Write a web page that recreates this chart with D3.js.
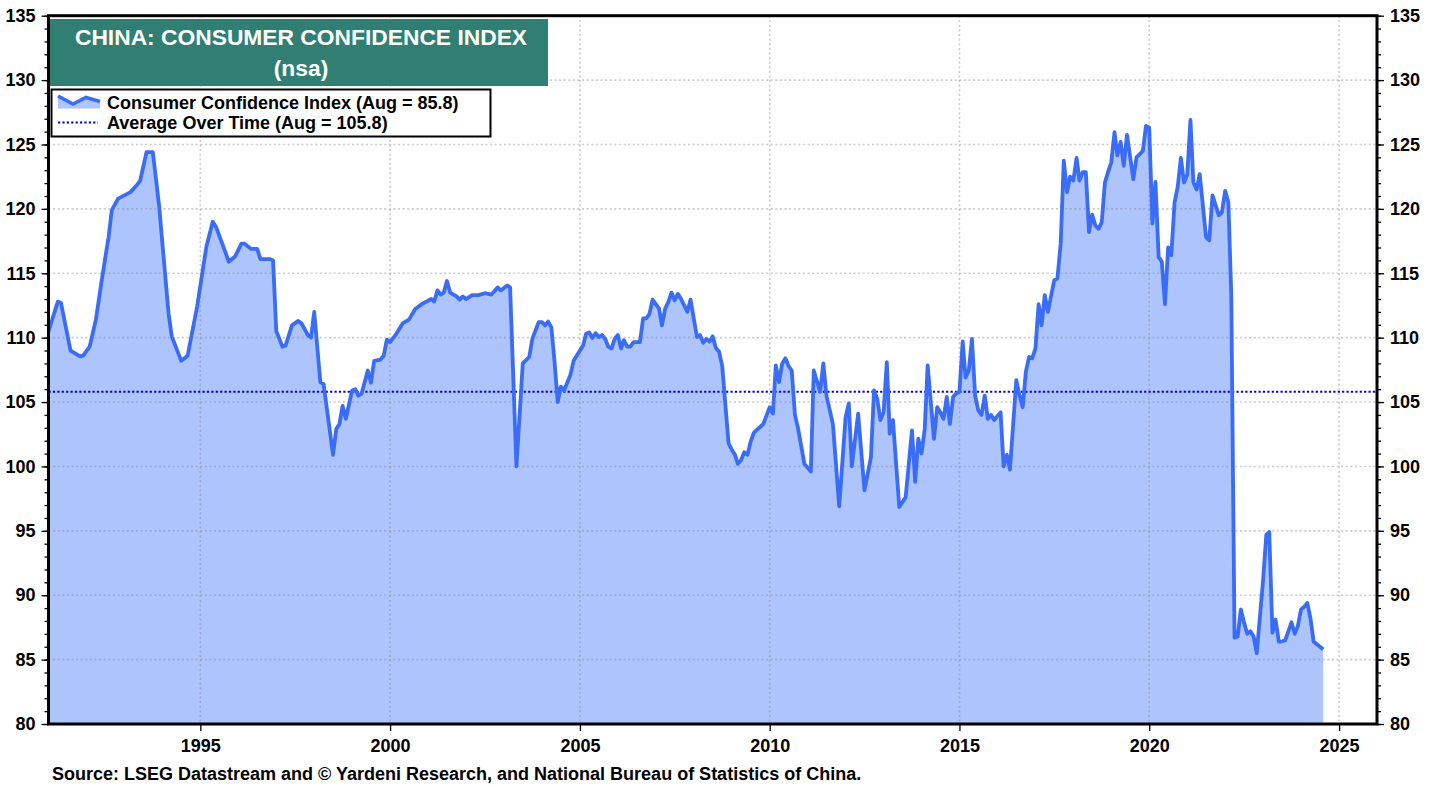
<!DOCTYPE html>
<html>
<head>
<meta charset="utf-8">
<script src="https://cdn.jsdelivr.net/npm/d3@7"></script>
<style>
	body {margin: 0; background: #fff}
	text {font-family: Arial, "Liberation Sans", sans-serif; font-weight: bold}
</style>
</head>
<body>
<svg id="chart" width="1438" height="785"></svg>
<script>
'use strict';
// readings, month -> index level
const months = [
	"1991-01","1991-04","1991-05","1991-08","1991-11","1991-12","1992-02","1992-03","1992-04","1992-06",
	"1992-08","1992-09","1992-11","1993-03","1993-05","1993-06","1993-08","1993-10","1993-12","1994-03",
	"1994-04","1994-07","1994-09","1994-12","1995-03","1995-05","1995-06","1995-09","1995-10","1995-12",
	"1996-02","1996-03","1996-05","1996-07","1996-08","1996-11","1996-12","1997-01","1997-03","1997-04",
	"1997-06","1997-08","1997-09","1997-11","1997-12","1998-01","1998-03","1998-04","1998-07","1998-08",
	"1998-09","1998-10","1998-11","1999-01","1999-02","1999-03","1999-04","1999-06","1999-07","1999-08",
	"1999-10","1999-11","1999-12","2000-01","2000-03","2000-05","2000-07","2000-09","2000-11","2001-02",
	"2001-03","2001-04","2001-05","2001-06","2001-07","2001-08","2001-10","2001-11","2001-12","2002-01",
	"2002-03","2002-05","2002-07","2002-09","2002-10","2002-11","2002-12","2003-02","2003-03","2003-05",
	"2003-07","2003-09","2003-10","2003-12","2004-01","2004-02","2004-03","2004-04","2004-05","2004-06",
	"2004-07","2004-08","2004-10","2004-11","2005-01","2005-02","2005-03","2005-04","2005-05","2005-06",
	"2005-07","2005-08","2005-09","2005-10","2005-11","2005-12","2006-01","2006-02","2006-03","2006-04",
	"2006-05","2006-06","2006-08","2006-09","2006-10","2006-11","2006-12","2007-02","2007-03","2007-04",
	"2007-05","2007-06","2007-07","2007-08","2007-09","2007-11","2007-12","2008-02","2008-03","2008-04",
	"2008-05","2008-06","2008-07","2008-08","2008-09","2008-10","2008-12","2009-01","2009-02","2009-03",
	"2009-04","2009-05","2009-06","2009-07","2009-08","2009-09","2009-11","2010-01","2010-02","2010-03",
	"2010-04","2010-05","2010-06","2010-07","2010-08","2010-09","2010-10","2010-12","2011-02","2011-03",
	"2011-05","2011-06","2011-07","2011-09","2011-11","2012-01","2012-02","2012-03","2012-05","2012-07",
	"2012-09","2012-10","2012-11","2012-12","2013-01","2013-02","2013-03","2013-04","2013-06","2013-08",
	"2013-10","2013-11","2013-12","2014-01","2014-02","2014-03","2014-05","2014-06","2014-07","2014-08",
	"2014-09","2014-10","2014-11","2014-12","2015-01","2015-02","2015-03","2015-04","2015-05","2015-06",
	"2015-07","2015-08","2015-09","2015-10","2015-11","2015-12","2016-02","2016-03","2016-04","2016-05",
	"2016-07","2016-08","2016-09","2016-10","2016-11","2016-12","2017-01","2017-02","2017-03","2017-04",
	"2017-05","2017-07","2017-08","2017-09","2017-10","2017-11","2017-12","2018-01","2018-02","2018-03",
	"2018-04","2018-05","2018-06","2018-07","2018-08","2018-09","2018-10","2018-11","2018-12","2019-01",
	"2019-02","2019-03","2019-04","2019-05","2019-06","2019-08","2019-09","2019-11","2019-12","2020-01",
	"2020-02","2020-03","2020-04","2020-05","2020-06","2020-07","2020-08","2020-09","2020-10","2020-11",
	"2020-12","2021-01","2021-02","2021-03","2021-04","2021-05","2021-07","2021-08","2021-09","2021-11",
	"2021-12","2022-01","2022-02","2022-03","2022-04","2022-05","2022-06","2022-07","2022-08","2022-09",
	"2022-10","2022-11","2022-12","2023-01","2023-02","2023-03","2023-04","2023-05","2023-06","2023-07",
	"2023-08","2023-09","2023-10","2023-11","2023-12","2024-01","2024-02","2024-03","2024-04","2024-05",
	"2024-06","2024-07","2024-08"]

const cci = [
	110.5,112.8,112.7,109.0,108.55,108.6,109.3,110.3,111.4,114.7,
	117.8,119.9,120.8,121.3,121.85,122.2,124.4,124.4,120.2,111.9,
	110.1,108.2,108.6,112.4,117.1,119.0,118.6,116.6,115.9,116.3,
	117.3,117.3,116.9,116.9,116.1,116.1,116.0,110.5,109.3,109.4,
	110.95,111.3,111.1,110.2,110.0,112.0,106.55,106.4,100.9,102.9,
	103.3,104.7,103.7,105.9,106.0,105.5,105.65,107.45,106.5,108.2,
	108.3,108.6,109.85,109.65,110.3,111.1,111.4,112.25,112.6,113.0,
	112.8,113.67,113.35,113.5,114.4,113.5,113.2,112.95,113.2,113.0,
	113.3,113.3,113.45,113.35,113.6,113.9,113.67,114.05,113.9,100.0,
	108.0,108.5,109.9,111.2,111.2,110.95,111.25,110.8,108.2,105.0,
	106.2,105.9,107.1,108.2,109.0,109.4,110.3,110.4,109.97,110.35,
	110.05,110.2,109.9,109.3,109.15,109.9,110.2,109.15,109.8,109.3,
	109.3,109.65,109.65,111.5,111.5,111.85,112.95,112.25,110.95,112.25,
	112.75,113.5,112.9,113.4,113.0,112.0,112.95,110.05,110.2,109.6,
	109.9,109.7,110.1,109.2,108.9,107.8,101.8,101.3,100.9,100.2,
	100.5,101.1,100.9,101.9,102.6,102.85,103.3,104.6,104.1,107.85,
	106.55,107.98,108.4,107.8,107.45,104.0,102.95,100.2,99.6,107.45,
	105.8,108.0,105.5,103.3,96.9,103.8,104.9,100.0,104.1,98.15,
	100.7,105.9,105.25,103.6,104.2,108.1,102.55,103.6,96.85,97.6,
	102.8,98.8,102.15,101.0,102.9,107.85,102.15,104.6,104.2,103.7,
	105.4,103.3,105.4,105.65,105.8,109.7,106.9,107.45,109.9,105.5,
	104.35,104.0,105.5,103.7,104.0,103.6,104.2,100.0,100.9,99.75,
	106.7,105.5,104.6,107.35,108.5,108.4,109.15,112.6,110.95,113.3,
	112.0,114.45,114.6,117.3,123.75,121.3,122.5,122.2,123.95,122.2,
	122.85,122.85,118.2,119.55,118.7,118.45,118.95,122.05,122.85,123.6,
	125.95,124.15,125.2,123.35,125.75,122.3,124.0,124.5,126.45,126.3,
	118.85,122.1,116.25,115.9,112.6,117.0,116.4,120.5,121.7,123.95,
	122.05,122.65,126.9,122.05,121.5,122.7,117.8,117.55,121.05,119.5,
	119.75,121.4,120.5,113.2,86.7,86.8,88.9,87.9,87.0,87.2,
	86.8,85.5,88.3,91.2,94.7,94.9,87.1,88.1,86.4,86.4,
	86.5,87.2,87.9,87.0,87.6,88.9,89.1,89.4,88.2,86.4,
	86.2,86.0,85.8]

const avgLevel = 105.8
const yMajor = d3.range(80, 136, 5)
const yMinor = d3.range(80, 136, 1)
const yearTicks = d3.range(1995, 2026, 5)
const titleLines = ["CHINA: CONSUMER CONFIDENCE INDEX", "(nsa)"]
const legendLabels = ["Consumer Confidence Index (Aug = 85.8)", "Average Over Time (Aug = 105.8)"]
const sourceText = "Source: LSEG Datastream and \u00A9 Yardeni Research, and National Bureau of Statistics of China."

let eSvg = d3.select("#chart")
let dLeft = 48.5, dRight = 1377, dTop = 15.7, dBottom = 724

let parseMonth = d3.timeParse("%Y-%m")
let tData = months.map((m, i) => ({date: parseMonth(m), value: cci[i]}))

let x = d3.scaleTime()
	.domain([new Date(1991, 0, 1), new Date(2026, 0, 1)])
	.range([dLeft, dRight])
let y = d3.scaleLinear().domain([80, 135]).range([dBottom, dTop])

// area first, grid dots show through on top of it
eSvg.append("path")
	.datum(tData)
	.attr("fill", "#aec4fc")
	.attr("d", d3.area().x(d => x(d.date)).y0(y(80)).y1(d => y(d.value)))

let eGrid = eSvg.append("g").attr("stroke", "rgba(130,130,130,0.42)")
	.attr("stroke-width", 1.6).attr("stroke-dasharray", "2,2.6")
eGrid.selectAll("line.h")
	.data(yMajor.filter(v => v > 80 && v < 135))
	.enter().append("line")
	.attr("x1", dLeft).attr("x2", dRight)
	.attr("y1", d => y(d)).attr("y2", d => y(d))
eGrid.selectAll("line.v")
	.data(yearTicks)
	.enter().append("line")
	.attr("x1", d => x(new Date(d, 0, 1))).attr("x2", d => x(new Date(d, 0, 1)))
	.attr("y1", dTop).attr("y2", dBottom)

// average level
eSvg.append("line")
	.attr("x1", dLeft).attr("x2", dRight)
	.attr("y1", y(avgLevel)).attr("y2", y(avgLevel))
	.attr("stroke", "#0000e0").attr("stroke-width", 2.2)
	.attr("stroke-dasharray", "2.2,2.2")

eSvg.append("path")
	.datum(tData)
	.attr("fill", "none")
	.attr("stroke", "#3a6cf5")
	.attr("stroke-width", 3.8)
	.attr("stroke-linejoin", "round")
	.attr("d", d3.line().x(d => x(d.date)).y(d => y(d.value)))

// frame
eSvg.append("rect")
	.attr("x", dLeft).attr("y", dTop)
	.attr("width", dRight - dLeft).attr("height", dBottom - dTop)
	.attr("fill", "none").attr("stroke", "#000").attr("stroke-width", 3)

function styleAxis(g) {
	g.select(".domain").remove()
	g.selectAll("line").attr("stroke", "#000").attr("stroke-width", 1.3)
	g.selectAll("text").attr("font-size", 18).attr("fill", "#000")
		.attr("font-family", "Arial, 'Liberation Sans', sans-serif")
}

eSvg.append("g").attr("transform", `translate(${dLeft},0)`)
	.call(d3.axisLeft(y).tickValues(yMinor).tickSize(4).tickFormat(""))
	.call(styleAxis)
eSvg.append("g").attr("transform", `translate(${dLeft},0)`)
	.call(d3.axisLeft(y).tickValues(yMajor).tickSize(7).tickPadding(6))
	.call(styleAxis)
eSvg.append("g").attr("transform", `translate(${dRight},0)`)
	.call(d3.axisRight(y).tickValues(yMinor).tickSize(4).tickFormat(""))
	.call(styleAxis)
eSvg.append("g").attr("transform", `translate(${dRight},0)`)
	.call(d3.axisRight(y).tickValues(yMajor).tickSize(7).tickPadding(6))
	.call(styleAxis)
eSvg.append("g").attr("transform", `translate(0,${dBottom})`)
	.call(d3.axisBottom(x).tickValues(yearTicks.map(d => new Date(d, 0, 1)))
		.tickSize(7).tickPadding(8).tickFormat(d3.timeFormat("%Y")))
	.call(styleAxis)

// title box
eSvg.append("rect")
	.attr("x", 50).attr("y", 19).attr("width", 498).attr("height", 67)
	.attr("fill", "#307f72")
eSvg.append("g").selectAll("text")
	.data(titleLines)
	.enter().append("text")
	.attr("x", 301).attr("y", (d, i) => 45 + i * 31)
	.attr("text-anchor", "middle")
	.attr("fill", "#fff").attr("font-size", 22.8)
	.text(d => d)

// legend
let eLegend = eSvg.append("g")
eLegend.append("rect")
	.attr("x", 51.5).attr("y", 89.5).attr("width", 439).attr("height", 47)
	.attr("fill", "#fff").attr("stroke", "#000").attr("stroke-width", 2)
let aIcon = [[58, 96], [73, 104], [86, 97.5], [100, 101.5]]
eLegend.append("path")
	.attr("fill", "#aec4fc")
	.attr("d", d3.area().y0(108.5)(aIcon))
eLegend.append("path")
	.attr("fill", "none").attr("stroke", "#3a6cf5").attr("stroke-width", 3.6)
	.attr("d", d3.line()(aIcon))
eLegend.append("line")
	.attr("x1", 58).attr("x2", 98).attr("y1", 122.5).attr("y2", 122.5)
	.attr("stroke", "#0000e0").attr("stroke-width", 2.2).attr("stroke-dasharray", "2.2,2.2")
eLegend.selectAll("text")
	.data(legendLabels)
	.enter().append("text")
	.attr("x", 107).attr("y", (d, i) => 109 + i * 19.5)
	.attr("font-size", 18).attr("fill", "#000")
	.text(d => d)

eSvg.append("text")
	.attr("x", 52).attr("y", 780)
	.attr("font-size", 18).attr("fill", "#000")
	.text(sourceText)
</script>
</body>
</html>
